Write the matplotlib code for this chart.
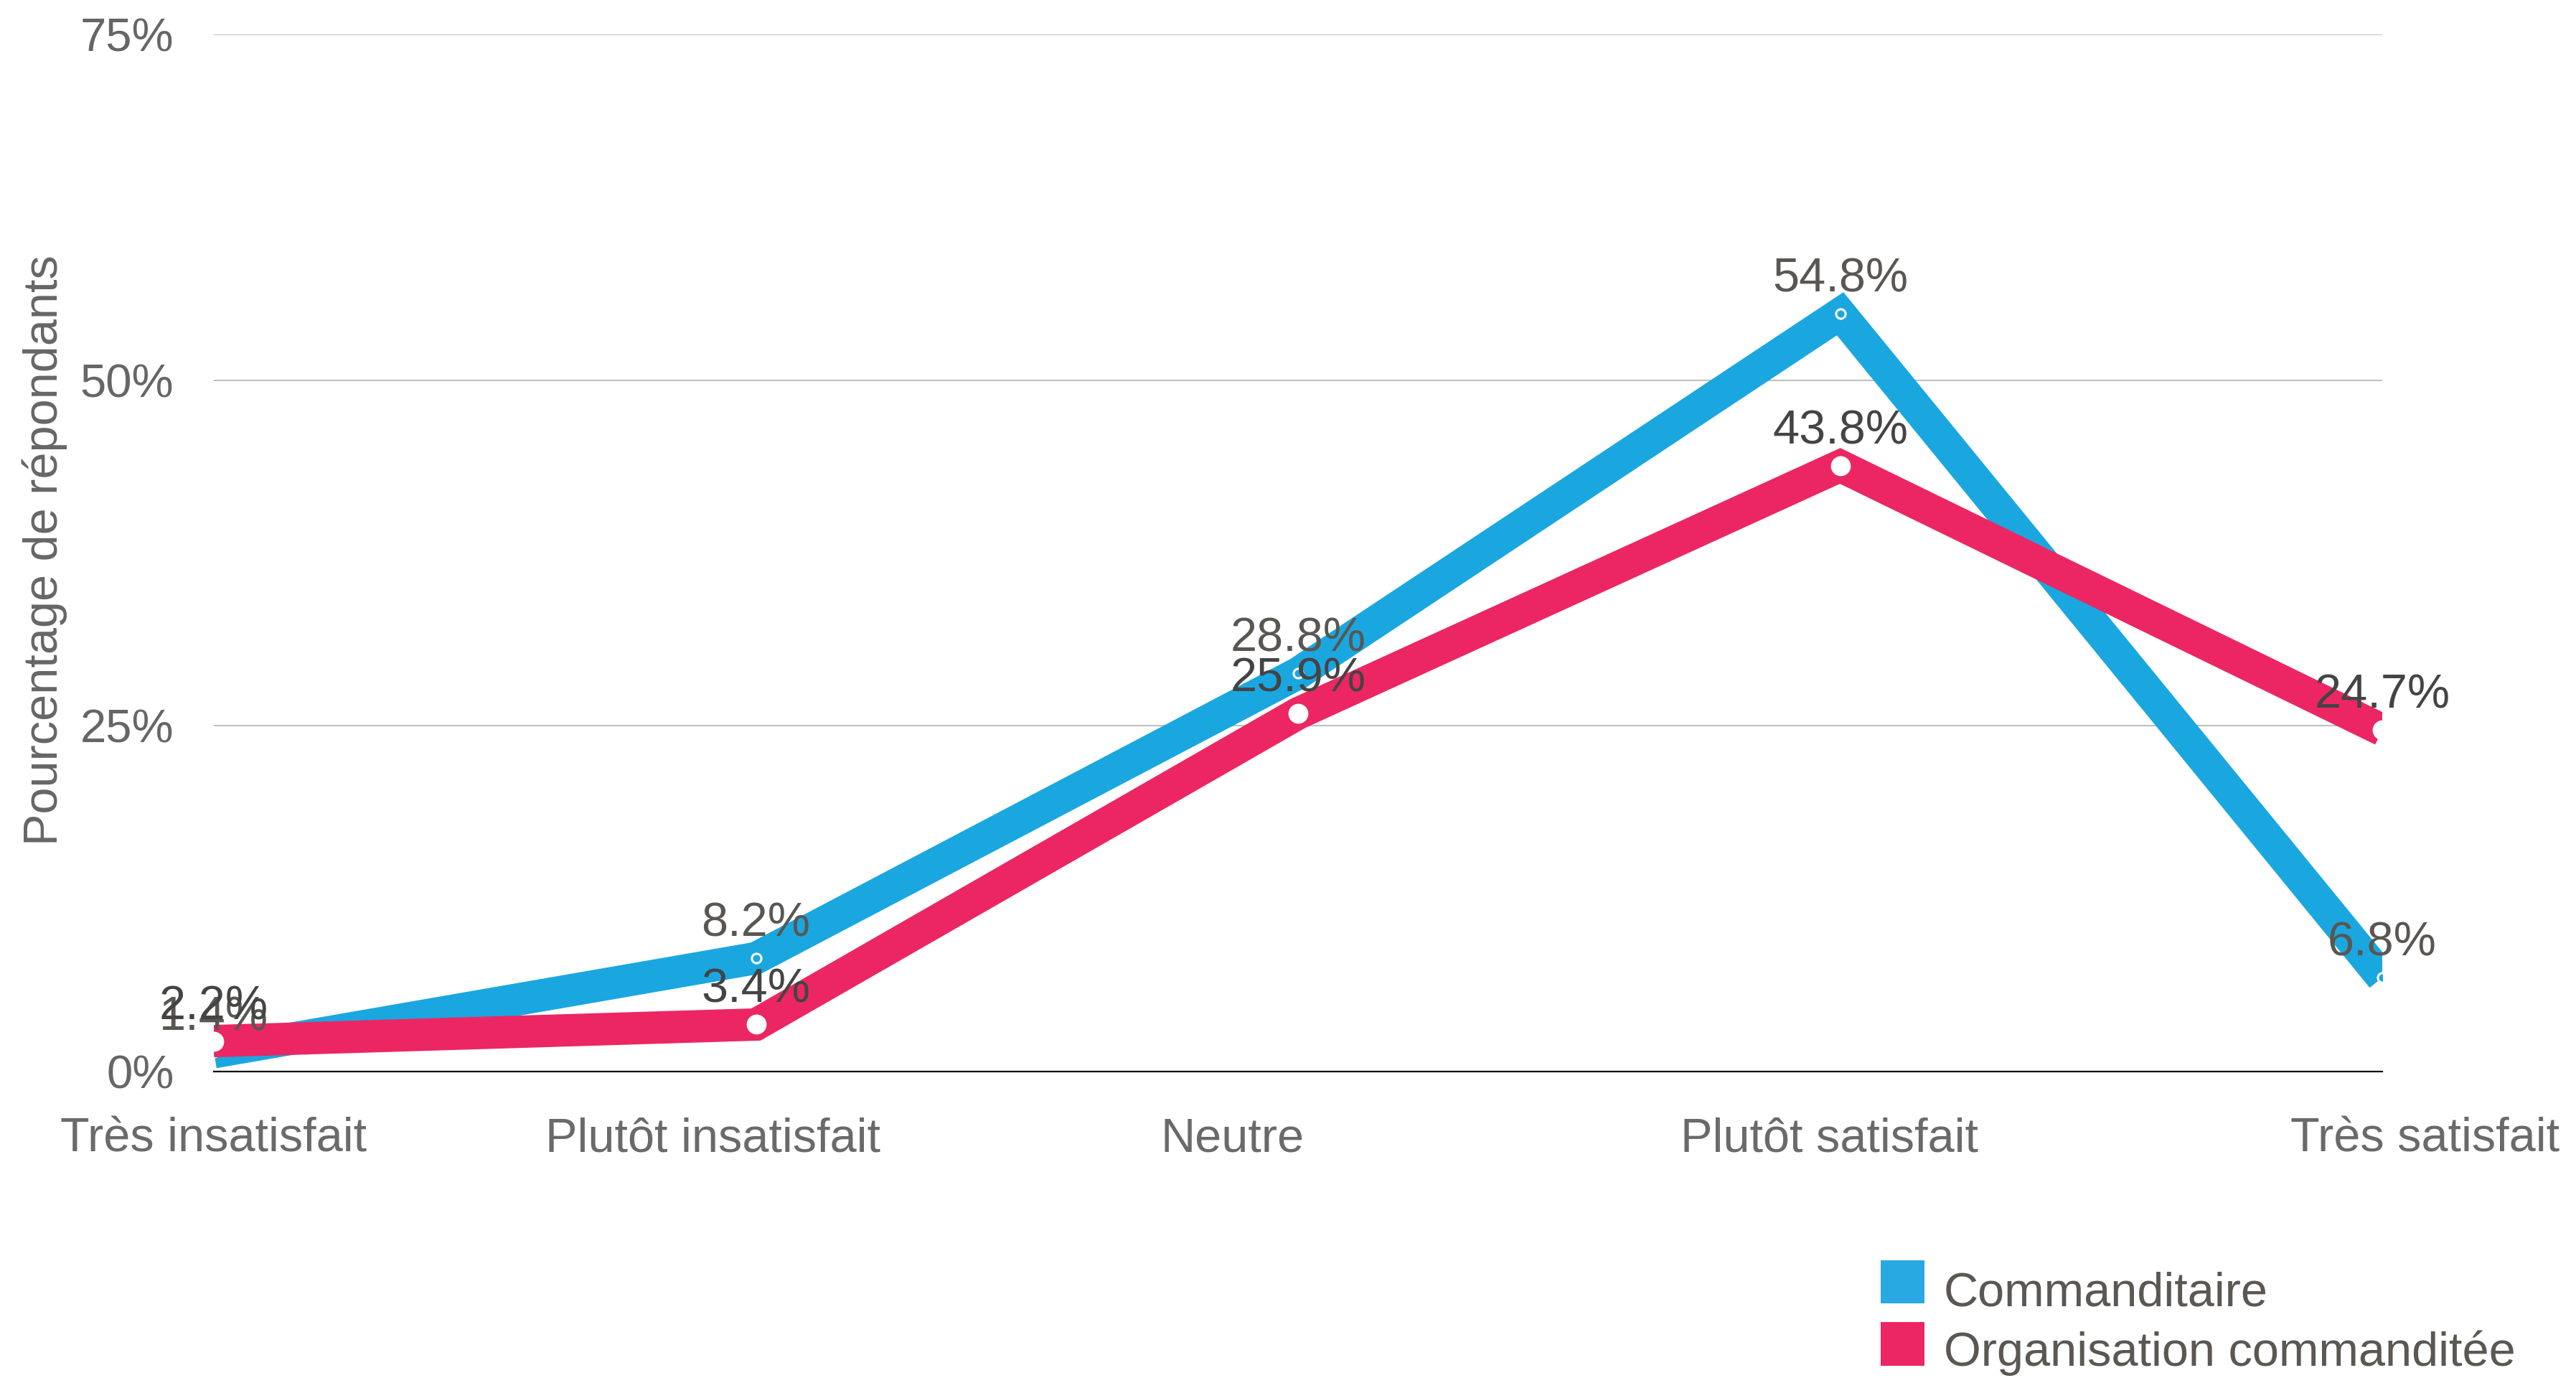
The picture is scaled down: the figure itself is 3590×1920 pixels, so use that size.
import matplotlib
matplotlib.use("Agg")
import matplotlib.pyplot as plt
from matplotlib.patches import Rectangle
from matplotlib.transforms import ScaledTranslation

# ---- data ----
categories = ["Très insatisfait", "Plutôt insatisfait", "Neutre", "Plutôt satisfait", "Très satisfait"]
commanditaire = [1.4, 8.2, 28.8, 54.8, 6.8]
organisation = [2.2, 3.4, 25.9, 43.8, 24.7]
series_names = ["Commanditaire", "Organisation commanditée"]
yticks = [0, 25, 50, 75]
ytick_labels = ["0%", "25%", "50%", "75%"]
y_label = "Pourcentage de répondants"

# ---- style ----
BLUE = "#1aa7e0"
BLUE_LEG = "#29a9e1"
PINK = "#ec2663"
FONT = "Liberation Sans"
plt.rcParams["font.family"] = [FONT, "DejaVu Sans"]

W, H, DPI = 3590, 1920, 100
fig = plt.figure(figsize=(W / DPI, H / DPI), dpi=DPI)
fig.patch.set_facecolor("white")

left, right, bottom_px, top_px = 298, 3320, 1493, 48
ax = fig.add_axes([left / W, (H - bottom_px) / H, (right - left) / W, (bottom_px - top_px) / H])

x = list(range(len(categories)))
lw = 32.5
ax.plot(x, commanditaire, color=BLUE, lw=lw, solid_joinstyle="miter", solid_capstyle="butt", zorder=3)
ax.plot(x, commanditaire, ls="none", marker="o", ms=9.5, mfc=BLUE, mec="white", mew=2.2, zorder=4)
ax.plot(x, organisation, color=PINK, lw=lw, solid_joinstyle="miter", solid_capstyle="butt", zorder=5)
ax.plot(x, organisation, ls="none", marker="o", ms=20, mfc="white", mec="white", mew=0, zorder=6)

# data labels
for xi, v in zip(x, commanditaire):
    ax.annotate(f"{v:.1f}%", (xi, v), xytext=(0, 22), textcoords="offset points",
                ha="center", va="baseline", fontsize=48, color="#5a5652", zorder=8,
                annotation_clip=False)
for xi, v in zip(x, organisation):
    ax.annotate(f"{v:.1f}%", (xi, v), xytext=(0, 22), textcoords="offset points",
                ha="center", va="baseline", fontsize=48, color="#444444", zorder=8,
                annotation_clip=False)

# grid / axes
for s in ["top", "left", "right"]:
    ax.spines[s].set_visible(False)
ax.spines["bottom"].set_color("black")
ax.spines["bottom"].set_linewidth(1.6)
ax.spines["bottom"].set_zorder(2)
ax.set_yticks(yticks)
ax.set_yticklabels(ytick_labels)
ax.yaxis.grid(True, color="#bdbdbd", lw=1.4, zorder=0)
ax.set_axisbelow(True)
ax.tick_params(axis="y", length=0, pad=40, labelsize=47, labelcolor="#666666")

ax.set_xticks(x)
ax.set_xticklabels(categories)
ax.tick_params(axis="x", length=0, pad=46, labelsize=48, labelcolor="#6a6a6a")
ax.set_xlim(0, len(categories) - 1)
ax.set_ylim(0, 75)

# horizontal nudges of the category labels (inches), as in the reference layout
label_shift = [0.0, -0.60, -0.91, -0.15, 0.60]
for lab, dx in zip(ax.get_xticklabels(), label_shift):
    lab.set_transform(lab.get_transform() + ScaledTranslation(dx, 0, fig.dpi_scale_trans))

fig.text(62 / W, (H - 767) / H, y_label, rotation=90, ha="center", va="center",
         fontsize=48, color="#666666")

# legend
leg_entries = [(series_names[0], BLUE_LEG, 1756, 1816, 1802),
               (series_names[1], PINK, 1842, 1903, 1885)]
for name, col, y0, y1, ty in leg_entries:
    fig.patches.append(Rectangle((2621 / W, (H - y1) / H), 61 / W, (y1 - y0) / H,
                                 transform=fig.transFigure, facecolor=col, edgecolor="none"))
    fig.text(2709 / W, (H - ty) / H, name, ha="left", va="center", fontsize=48,
             color="#5b5753")

fig.savefig("out.png", dpi=DPI, facecolor="white")
